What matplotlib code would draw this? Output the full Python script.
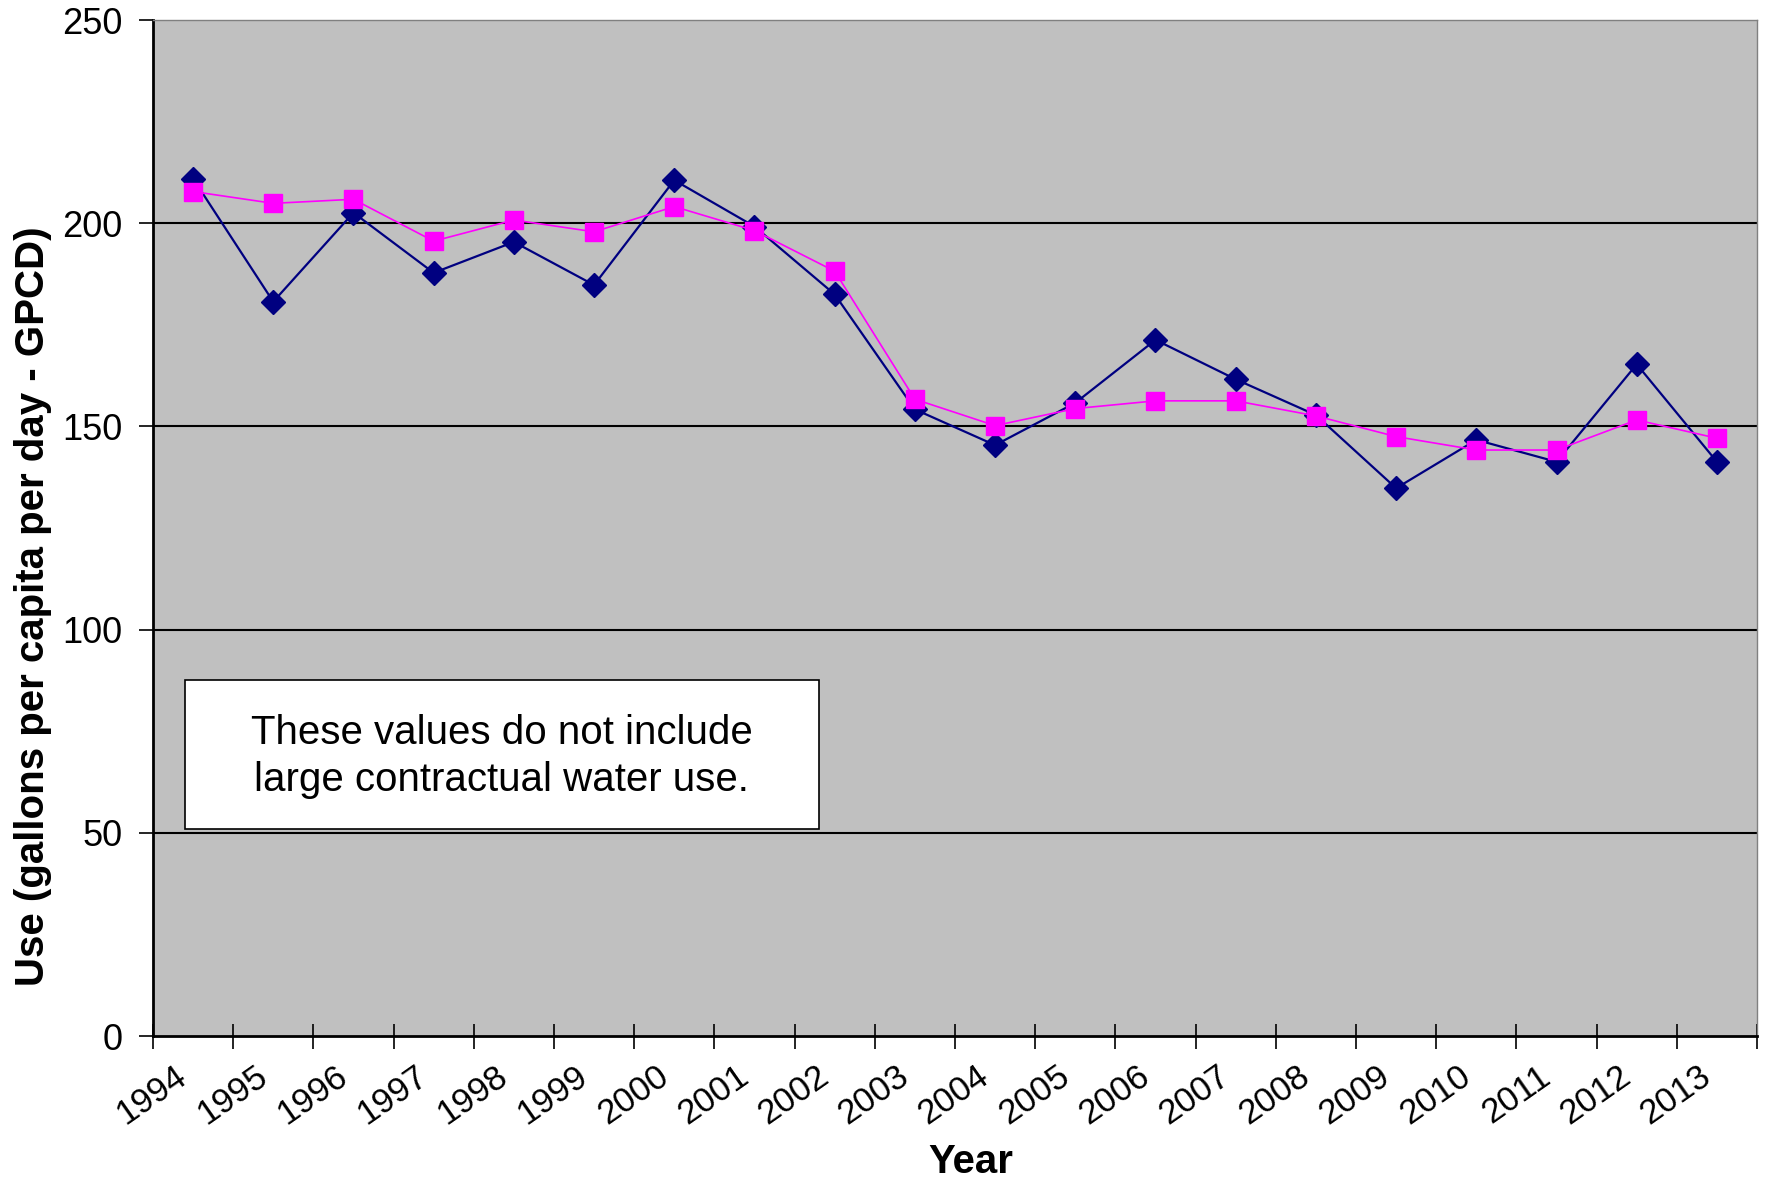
import numpy as np
import matplotlib.pyplot as plt
from matplotlib.patches import Rectangle

plt.rcParams['font.family'] = ['Liberation Sans', 'DejaVu Sans']

years = [str(y) for y in range(1994, 2014)]
# navy diamonds
use_a = [211.0, 180.7, 202.6, 187.8, 195.4, 184.8, 210.6, 199.2, 182.5, 154.2,
         145.4, 155.8, 171.3, 161.6, 152.8, 134.8, 146.7, 141.3, 165.3, 141.3]
# magenta squares
use_b = [207.8, 204.9, 205.9, 195.6, 200.8, 197.9, 204.1, 198.2, 188.2, 156.7,
         150.2, 154.4, 156.3, 156.3, 152.6, 147.5, 144.2, 144.2, 151.6, 147.1]
y_ticks = [0, 50, 100, 150, 200, 250]
note = 'These values do not include\nlarge contractual water use.'

fig = plt.figure(figsize=(17.68, 11.8), dpi=100)
ax = fig.add_axes([0.0865, 0.122, 0.9073, 0.861])
ax.set_facecolor('#C0C0C0')

x = np.arange(len(years))
ax.plot(x, use_a, color='#000080', lw=1.6, marker='D', ms=12.5, zorder=3)
ax.plot(x, use_b, color='#FF00FF', lw=1.2, marker='s', ms=13, zorder=4)

ax.set_xlim(-0.5, len(years) - 0.5)
ax.set_ylim(0, 250)

# horizontal grid
for v in y_ticks[1:-1]:
    ax.axhline(v, color='black', lw=1.5, zorder=1)

ax.set_yticks(y_ticks)
ax.set_yticklabels([str(v) for v in y_ticks], fontsize=26)
ax.tick_params(axis='y', length=10, width=1.2, direction='out', pad=12)

# ticks between categories, labels at the centres
ax.set_xticks(np.arange(len(years) + 1) - 0.5)
ax.set_xticklabels([])
ax.tick_params(axis='x', which='major', direction='inout', length=18, width=1.2)
ax.set_xticks(x, minor=True)
ax.set_xticklabels(years, minor=True, rotation=35, ha='right', va='top', fontsize=25)
ax.tick_params(axis='x', which='minor', length=0, pad=17)

for s in ['left', 'bottom']:
    ax.spines[s].set_linewidth(2)
for s in ['top', 'right']:
    ax.spines[s].set_color('#808080')
    ax.spines[s].set_linewidth(1)

ax.set_xlabel('Year', fontsize=29, fontweight='bold')
ax.xaxis.set_label_coords(0.51, -0.105)
ax.set_ylabel('Use (gallons per capita per day - GPCD)', fontsize=29,
              fontweight='bold')
ax.yaxis.set_label_coords(-0.063, 0.423)

box = Rectangle((0.02, 0.204), 0.395, 0.146, transform=ax.transAxes,
                facecolor='white', edgecolor='black', lw=1.2, zorder=5)
ax.add_patch(box)
ax.text(0.2175, 0.275, note, transform=ax.transAxes, ha='center', va='center',
        fontsize=29, linespacing=1.3, zorder=6)

fig.savefig('out.png', dpi=100)
